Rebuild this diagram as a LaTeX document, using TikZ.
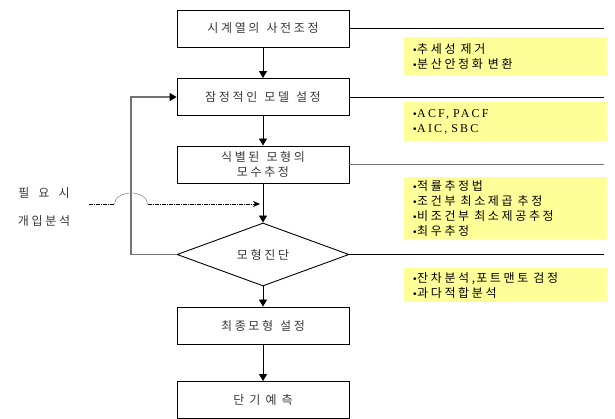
\documentclass[tikz,border=0pt]{standalone}
\usepackage{fontspec}
\newfontfamily\kr[LetterSpace=22]{Noto Sans CJK KR}
\newfontfamily\kserif[LetterSpace=18]{Liberation Serif}
\newfontfamily\bulfont{Liberation Sans}
\newcommand{\bul}{{\bulfont\fontsize{10}{10}\selectfont•}\kern0.5pt}
\newcommand{\ws}{\hspace{7pt}}
\usetikzlibrary{arrows.meta,shapes.geometric}
\definecolor{memo}{RGB}{255,255,153}
\definecolor{txt}{RGB}{55,55,55}
\begin{document}
\begin{tikzpicture}[x=1pt,y=-1pt,
  kfont/.style={font=\kr\fontsize{12}{15}\selectfont},
  box/.style={draw=black,line width=0.9pt,minimum width=172pt,minimum height=37pt,inner sep=0pt,kfont,text=txt,align=center},
  dia/.style={diamond,draw=black,line width=0.9pt,minimum width=172pt,minimum height=45pt,inner sep=0pt,kfont,text=txt},
  memobox/.style={fill=memo,draw=none,anchor=north west,inner xsep=9pt,inner ysep=0pt,text width=185pt,align=left,kfont,text=black},
  arr/.style={line width=0.9pt,-{Triangle[length=7pt,width=8pt]}},
  rline/.style={line width=0.8pt,black},
  gline/.style={line width=1.3pt,black!55},
  dashline/.style={line width=0.7pt,black,dash pattern=on 4pt off 1pt on 1pt off 1pt}
]
\useasboundingbox (0,0) rectangle (615,419);
\coordinate (rx) at (604,0);
\coordinate (fbx) at (131,0);

% main boxes
\node[box] (b1) at (263,28.5) {시계열의\ws 사전조정};
\node[box] (b2) at (263,97) {잠정적인\ws 모델\ws 설정};
\node[box] (b3) at (263,164.5) {식별된\ws 모형의\\모수추정};
\node[dia] (dg) at (263,254.5) {모형진단};
\node[box] (b4) at (263,325.5) {최종모형\ws 설정};
\node[box] (b5) at (263,400) {단\hspace{5pt}기\hspace{5pt}예\hspace{5pt}측};

% memo boxes
\node[memobox,minimum height=38pt] (m1) at (404,37) {\bul 추세성\hspace{5pt}제거\\\bul 분산안정화\hspace{5pt}변환};
\node[memobox,minimum height=39pt,font=\kserif\fontsize{12}{15}\selectfont] (m2) at (404,102) {\bul ACF, PACF\\\bul AIC, SBC};
\node[memobox,minimum height=62pt] (m3) at (404,177) {\bul 적률추정법\\\bul 조건부\hspace{5pt}최소제곱\hspace{5pt}추정\\\bul 비조건부\hspace{5pt}최소제공추정\\\bul 최우추정};
\node[memobox,minimum height=34pt] (m4) at (404,268) {\bul 잔차분석,\hspace{1pt}포트맨토\hspace{5pt}검정\\\bul 과다적합분석};

% right lines
\draw[rline] (b1.east) -- (b1.east -| rx);
\draw[rline] (b2.east) -- (b2.east -| rx);
\draw[gline] (b3.east) -- (b3.east -| rx);
\draw[rline] (dg.east) -- (dg.east -| rx);

% main arrows
\draw[arr] (b1) -- (b2);
\draw[arr] (b2) -- (b3);
\draw[arr] (b3) -- (dg);
\draw[arr] (dg) -- (b4);
\draw[arr] (b4) -- (b5);

% feedback loop
\draw[gline,-{Triangle[length=7pt,width=8pt,color=black]}] (dg.west) -- (dg.west -| fbx) |- (b2.west);

% left labels
\node[kfont,text=txt] (l1) at (44,193) {필\hspace{9pt}요\hspace{9pt}시};
\node[kfont,text=txt] (l2) at (44,221) {개입분석};

% dashed intervention arrow
\coordinate (ds) at (89,204);
\coordinate (hs) at (114.5,204);
\coordinate (he) at (147.5,204);
\coordinate (de) at (260,204);
\draw[dashline] (ds) -- (hs);
\draw[black!45,line width=0.6pt] (hs) arc[start angle=180,end angle=360,x radius=16.5,y radius=11];
\draw[dashline,-{Stealth[length=7pt,width=6pt]}] (he) -- (de);
\end{tikzpicture}
\end{document}
